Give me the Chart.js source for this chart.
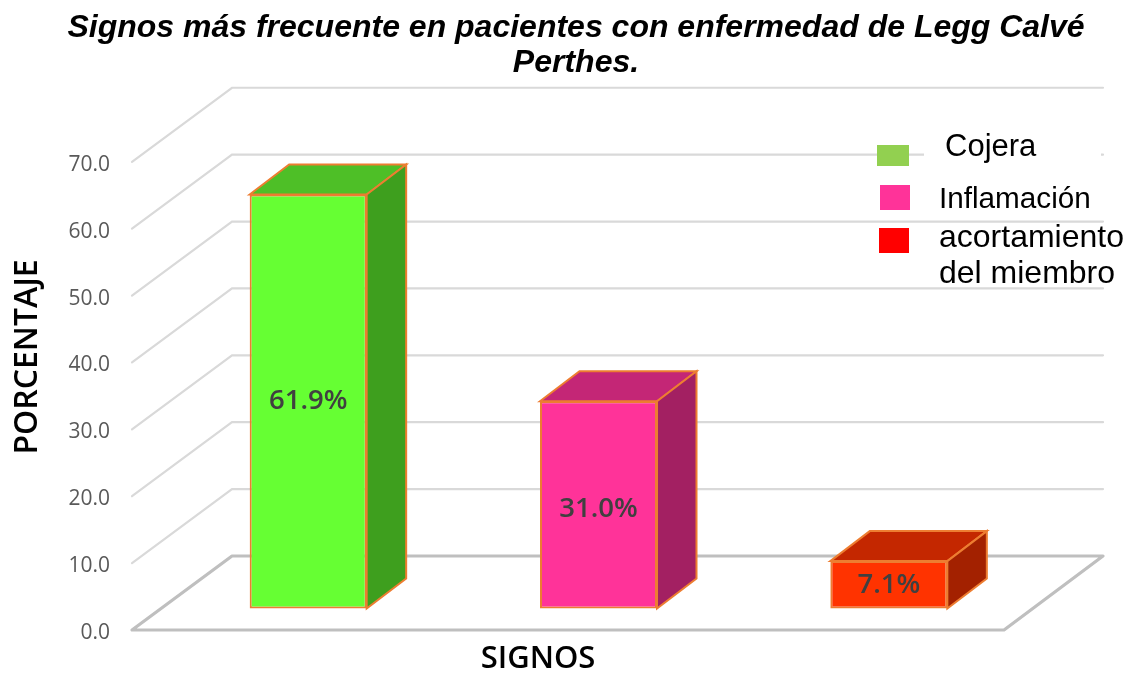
<!DOCTYPE html>
<html><head><meta charset="utf-8">
<style>html,body{margin:0;padding:0;background:#fff}canvas{display:block}</style>
<script src="https://cdn.jsdelivr.net/npm/chart.js@4/dist/chart.umd.min.js"></script>
</head><body><canvas id="c" width="1137" height="677"></canvas>
<script>
const categories = ["Cojera", "Inflamación", "acortamiento del miembro"];
const values = [61.9, 31.0, 7.1];
const tickValues = [0, 10, 20, 30, 40, 50, 60, 70];
const titleLines = ["Signos más frecuente en pacientes con enfermedad de Legg Calvé", "Perthes."];
const yTitle = "PORCENTAJE";
const xTitle = "SIGNOS";
const frontColors = ["#66FF33", "#FF3399", "#FF3300"];
const topColors = ["#4EBF27", "#C42676", "#C42700"];
const sideColors = ["#3E9F1E", "#A32062", "#A32100"];
const legendColors = ["#92D050", "#FF3399", "#FF0000"];
const labelShift = [0, 4, 0];
const legendLayout = [
  {box:[877,145,32,21], lines:[["Cojera",945,156,31]]},
  {box:[880,185,30,25], lines:[["Inflamación",939,208,29.7]]},
  {box:[879,228,30,25], lines:[["acortamiento",939,247,32],["del miembro",939,283,32]]}
];
const edge = "#ED7D31";
const DX = 39.5, DY = -30, WX = 100, WY = -74, FL = 132, FR = 1004;
const noPad = s => { s.paddingTop = s.paddingBottom = s.paddingLeft = s.paddingRight = 0; };

const box3d = {
  id: "box3d",
  beforeDatasetsDraw(chart) {
    const c = chart.ctx, y = chart.scales.y;
    c.save();
    c.lineCap = "round";
    c.strokeStyle = "#D9D9D9"; c.lineWidth = 2.2;
    tickValues.filter(v => v > 0).forEach(v => {
      const p = y.getPixelForValue(v);
      c.beginPath();
      c.moveTo(FL, p); c.lineTo(FL + WX, p + WY); c.lineTo(FR + WX - 1, p + WY);
      c.stroke();
    });
    const p0 = y.getPixelForValue(0);
    c.strokeStyle = "#BFBFBF"; c.lineWidth = 3.2; c.lineJoin = "round";
    c.beginPath();
    c.moveTo(FL, p0); c.lineTo(FR, p0); c.lineTo(FR + WX - 1, p0 + WY); c.lineTo(FL + WX, p0 + WY);
    c.closePath(); c.stroke();
    c.fillStyle = "#fff";
    c.fillRect(924, y.getPixelForValue(60) + WY - 7, 177, 14);
    c.lineJoin = "miter"; c.lineCap = "butt";
    const meta = chart.getDatasetMeta(0);
    meta.data.forEach((b, i) => {
      const l = b.x - b.width / 2, r = b.x + b.width / 2, t = b.y, bt = b.base;
      c.strokeStyle = edge; c.lineWidth = 2;
      c.fillStyle = topColors[i];
      c.beginPath(); c.moveTo(l, t); c.lineTo(l + DX, t + DY); c.lineTo(r + DX, t + DY); c.lineTo(r, t); c.closePath(); c.fill(); c.stroke();
      c.fillStyle = sideColors[i];
      c.beginPath(); c.moveTo(r, t); c.lineTo(r + DX, t + DY); c.lineTo(r + DX, bt + DY); c.lineTo(r, bt); c.closePath(); c.fill(); c.stroke();
    });
    c.restore();
  },
  afterDatasetsDraw(chart) {
    const c = chart.ctx;
    c.save();
    const meta = chart.getDatasetMeta(0);
    c.textAlign = "center"; c.textBaseline = "middle";
    c.fillStyle = "#404040"; c.font = '600 27.5px "Open Sans"';
    meta.data.forEach((b, i) => c.fillText(values[i].toFixed(1) + "%", b.x, (b.y + b.base) / 2 + labelShift[i]));
    legendLayout.forEach((g, i) => {
      c.fillStyle = legendColors[i];
      c.fillRect(g.box[0], g.box[1], g.box[2], g.box[3]);
      c.fillStyle = "#000"; c.textAlign = "left"; c.textBaseline = "alphabetic";
      g.lines.forEach(t => { c.font = t[3] + 'px "Liberation Sans"'; c.fillText(t[0], t[1], t[2]); });
    });
    c.fillStyle = "#000"; c.textAlign = "center"; c.textBaseline = "middle";
    c.font = '600 31px "Open Sans"';
    c.fillText(xTitle, 538, 659);
    c.translate(28, 357); c.rotate(-Math.PI / 2);
    c.font = '600 32px "Open Sans"';
    c.fillText(yTitle, 0, 0);
    c.restore();
  }
};

new Chart(document.getElementById("c"), {
  type: "bar",
  data: { labels: categories, datasets: [{
    data: values, yAxisID: "yBar", backgroundColor: frontColors, borderColor: edge, borderWidth: 2, borderSkipped: false,
    barPercentage: 0.403, categoryPercentage: 1 }] },
  plugins: [box3d],
  options: {
    responsive: false, animation: false, events: [],
    layout: { autoPadding: false, padding: { left: 15, right: 0, top: 0, bottom: 0 } },
    plugins: {
      legend: { display: false }, tooltip: { enabled: false },
      title: { display: true, text: titleLines, color: "#000",
        font: { family: '"Liberation Sans"', size: 32, weight: "bold", style: "italic", lineHeight: 1.09 },
        padding: { top: 11, bottom: 81 } }
    },
    scales: {
      x: { display: true, afterFit(s) { s.height = 47; noPad(s); },
        grid: { display: false, drawTicks: false }, border: { display: false }, ticks: { display: false } },
      y: { position: "left", min: 0, max: 70,
        afterFit(s) { s.width = 148; noPad(s); },
        grid: { display: false, drawTicks: false }, border: { display: false },
        ticks: { stepSize: 10, padding: 53, labelOffset: 3, color: "#595959", font: { family: '"Open Sans"', size: 21 },
          callback: v => v.toFixed(1) } },
      yBar: { position: "right", min: -3.2, max: 66.8,
        afterFit(s) { s.width = 103; noPad(s); },
        grid: { display: false, drawTicks: false }, border: { display: false },
        ticks: { display: false } }
    }
  }
});
</script></body></html>
